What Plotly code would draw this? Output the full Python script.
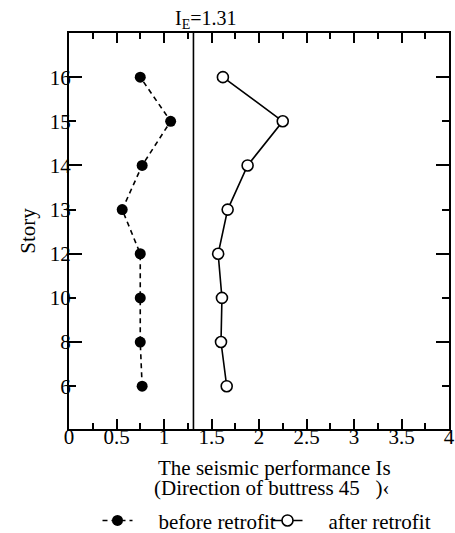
import plotly.graph_objects as go

stories = ["6", "8", "10", "12", "13", "14", "15", "16"]
before_retrofit = [0.77, 0.75, 0.75, 0.75, 0.56, 0.77, 1.07, 0.75]
after_retrofit = [1.66, 1.60, 1.61, 1.57, 1.67, 1.88, 2.25, 1.62]
IE = 1.31
long_tick_stories = ["8", "12", "14", "16"]
x_ticks = [0, 0.5, 1, 1.5, 2, 2.5, 3, 3.5, 4]
x_tick_text = ["0", "0.5", "1", "1.5", "2", "2.5", "3", "3.5", "4"]
x_title_lines = ["The seismic performance Is",
                 "(Direction of buttress 45\u00a0\u00a0\u00a0)\u2039"]
y_title = "Story"
legend_names = ["before retrofit", "after retrofit"]

FONT = "Liberation Serif, Times New Roman, serif"
PAD = "\u00a0" * 4

fig = go.Figure()
fig.add_trace(go.Scatter(
    x=before_retrofit, y=stories, name=PAD + legend_names[0],
    mode="lines+markers",
    line=dict(color="black", width=1.6, dash="5px,4px"),
    marker=dict(symbol="circle", size=11, color="black"),
))
fig.add_trace(go.Scatter(
    x=after_retrofit, y=stories, name=PAD + legend_names[1],
    mode="lines+markers",
    line=dict(color="black", width=1.6),
    marker=dict(symbol="circle", size=11, color="white",
                line=dict(color="black", width=1.6)),
))
long_idx = [stories.index(s) for s in long_tick_stories]
fig.add_trace(go.Scatter(x=[None], y=[None], yaxis="y2", showlegend=False,
                         hoverinfo="skip"))

fig.add_shape(type="line", xref="x", yref="paper", x0=IE, x1=IE, y0=0, y1=1,
              line=dict(color="black", width=1.6))
fig.add_annotation(xref="x", yref="paper", x=IE, y=1, xanchor="center",
                   yanchor="bottom", xshift=13, yshift=-1, showarrow=False,
                   text="I<sub>E</sub>=1.31",
                   font=dict(family=FONT, size=20, color="black"))
fig.add_annotation(xref="paper", yref="paper", x=0.542, y=-0.099,
                   xanchor="center", yanchor="middle", showarrow=False,
                   text=x_title_lines[0], font=dict(family=FONT, size=21))
fig.add_annotation(xref="paper", yref="paper", x=0.534, y=-0.149,
                   xanchor="center", yanchor="middle", showarrow=False,
                   text=x_title_lines[1], font=dict(family=FONT, size=21))

yrange = [-0.97, 8.0]
fig.update_layout(
    width=455, height=533,
    margin=dict(l=69, r=6, t=33, b=104, autoexpand=False),
    paper_bgcolor="white", plot_bgcolor="white",
    font=dict(family=FONT, size=20, color="black"),
    showlegend=True,
    legend=dict(orientation="h", x=0.075, y=-0.18, xanchor="left",
                yanchor="top", font=dict(size=21), entrywidth=125,
                entrywidthmode="pixels",
                tracegroupgap=0, bgcolor="rgba(0,0,0,0)"),
    xaxis=dict(
        range=[0, 4], tickvals=x_ticks, ticktext=x_tick_text,
        ticks="inside", ticklen=10, tickwidth=1.6, tickcolor="black",
        minor=dict(dtick=0.25, ticks="inside", ticklen=6, tickwidth=1.6,
                   tickcolor="black"),
        showline=True, linecolor="black", linewidth=2, mirror="ticks",
        showgrid=False, zeroline=False, automargin=False,
        tickfont=dict(size=21), ticklabelstandoff=-12,
    ),
    yaxis=dict(
        type="category", categoryorder="array", categoryarray=stories,
        range=yrange, ticks="inside", ticklen=7, tickwidth=1.6,
        tickcolor="black", showline=True, linecolor="black", linewidth=2,
        mirror="ticks", showgrid=False, zeroline=False, automargin=False,
        tickfont=dict(size=21), ticklabelstandoff=-8,
        title=dict(text=y_title, font=dict(size=21), standoff=8),
    ),
    yaxis2=dict(
        overlaying="y", anchor="x", side="left", range=yrange,
        tickvals=long_idx, showticklabels=False, automargin=False,
        ticks="inside", ticklen=13, tickwidth=1.6, tickcolor="black",
        mirror="ticks", showline=False, showgrid=False, zeroline=False,
    ),
)

fig.write_html("out.html", config={"displayModeBar": False},
               post_script="document.body.style.margin='0px';")
